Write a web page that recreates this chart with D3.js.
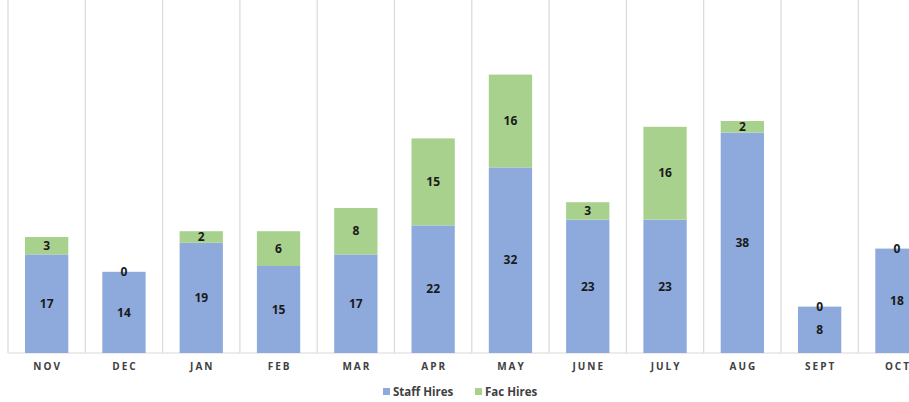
<!DOCTYPE html>
<html><head><meta charset="utf-8">
<script src="https://cdn.jsdelivr.net/npm/d3@7"></script>
<style>body{margin:0;background:#fff;} svg{display:block;}</style>
</head><body>
<svg id="c" width="909" height="402"></svg>
<script>
const categories = ["NOV","DEC","JAN","FEB","MAR","APR","MAY","JUNE","JULY","AUG","SEPT","OCT"];
const staffHires = [17,14,19,15,17,22,32,23,23,38,8,18];
const facHires = [3,0,2,6,8,15,16,3,16,2,0,0];
const seriesNames = ["Staff Hires","Fac Hires"];
const colors = ["#8eaadc","#a9d18e"];

(function(){
const svg = d3.select("#c");
const left = 8, bandW = 77.3, base = 353, plotTop = 5;
const x = d3.scaleBand().domain(categories).range([left, left + bandW*categories.length]).paddingInner(0.44).paddingOuter(0.22);
const y = d3.scaleLinear().domain([0,60]).range([base, plotTop]);

const rows = categories.map((c,i)=>({cat:c, s:staffHires[i], f:facHires[i]}));
const stack = d3.stack().keys(["s","f"])(rows);

const bounds = d3.range(categories.length+1).map(i => left + i*x.step());
svg.append("g").selectAll("line").data(bounds).join("line")
  .attr("x1", d=>d).attr("x2", d=>d).attr("y1", 0).attr("y2", base)
  .attr("stroke", "#d9d9d9").attr("stroke-width", 1.2);

svg.append("line").attr("x1", left).attr("x2", 909).attr("y1", base).attr("y2", base)
  .attr("stroke", "#d9d9d9").attr("stroke-width", 1.2);

const g = svg.append("g");
stack.forEach((layer, li) => {
  g.append("g").selectAll("rect").data(layer).join("rect")
    .attr("x", d=>x(d.data.cat)).attr("width", x.bandwidth())
    .attr("y", d=>y(d[1])).attr("height", d=>y(d[0])-y(d[1]))
    .attr("fill", colors[li]);
});
stack.forEach((layer, li) => {
  g.append("g").selectAll("text").data(layer).join("text")
    .attr("x", d=>x(d.data.cat)+x.bandwidth()/2)
    .attr("y", d=>(y(d[0])+y(d[1]))/2)
    .attr("dy", "0.35em")
    .attr("text-anchor","middle")
    .attr("font-family","'Open Sans', sans-serif").attr("font-weight","bold").attr("font-size","12px")
    .attr("fill","#1a1a1a")
    .text(d=>d[1]-d[0]);
});

svg.append("g").selectAll("text").data(categories).join("text")
  .attr("x", d=>x(d)+x.bandwidth()/2+1).attr("y", 366).attr("dy","0.35em")
  .attr("text-anchor","middle")
  .attr("font-family","'Open Sans', sans-serif").attr("font-weight","bold").attr("font-size","10px")
  .attr("letter-spacing","2px").attr("fill","#404040")
  .text(d=>d);

const leg = svg.append("g").attr("font-family","'Open Sans', sans-serif").attr("font-weight","bold").attr("font-size","11.5px").attr("fill","#404040");
const legX = [383, 475];
seriesNames.forEach((n,i)=>{
  leg.append("rect").attr("x", legX[i]).attr("y", 388).attr("width",7).attr("height",7).attr("fill", colors[i]);
  leg.append("text").attr("x", legX[i]+10).attr("y", 392).attr("dy","0.35em").text(n);
});
})();
</script>
</body></html>
